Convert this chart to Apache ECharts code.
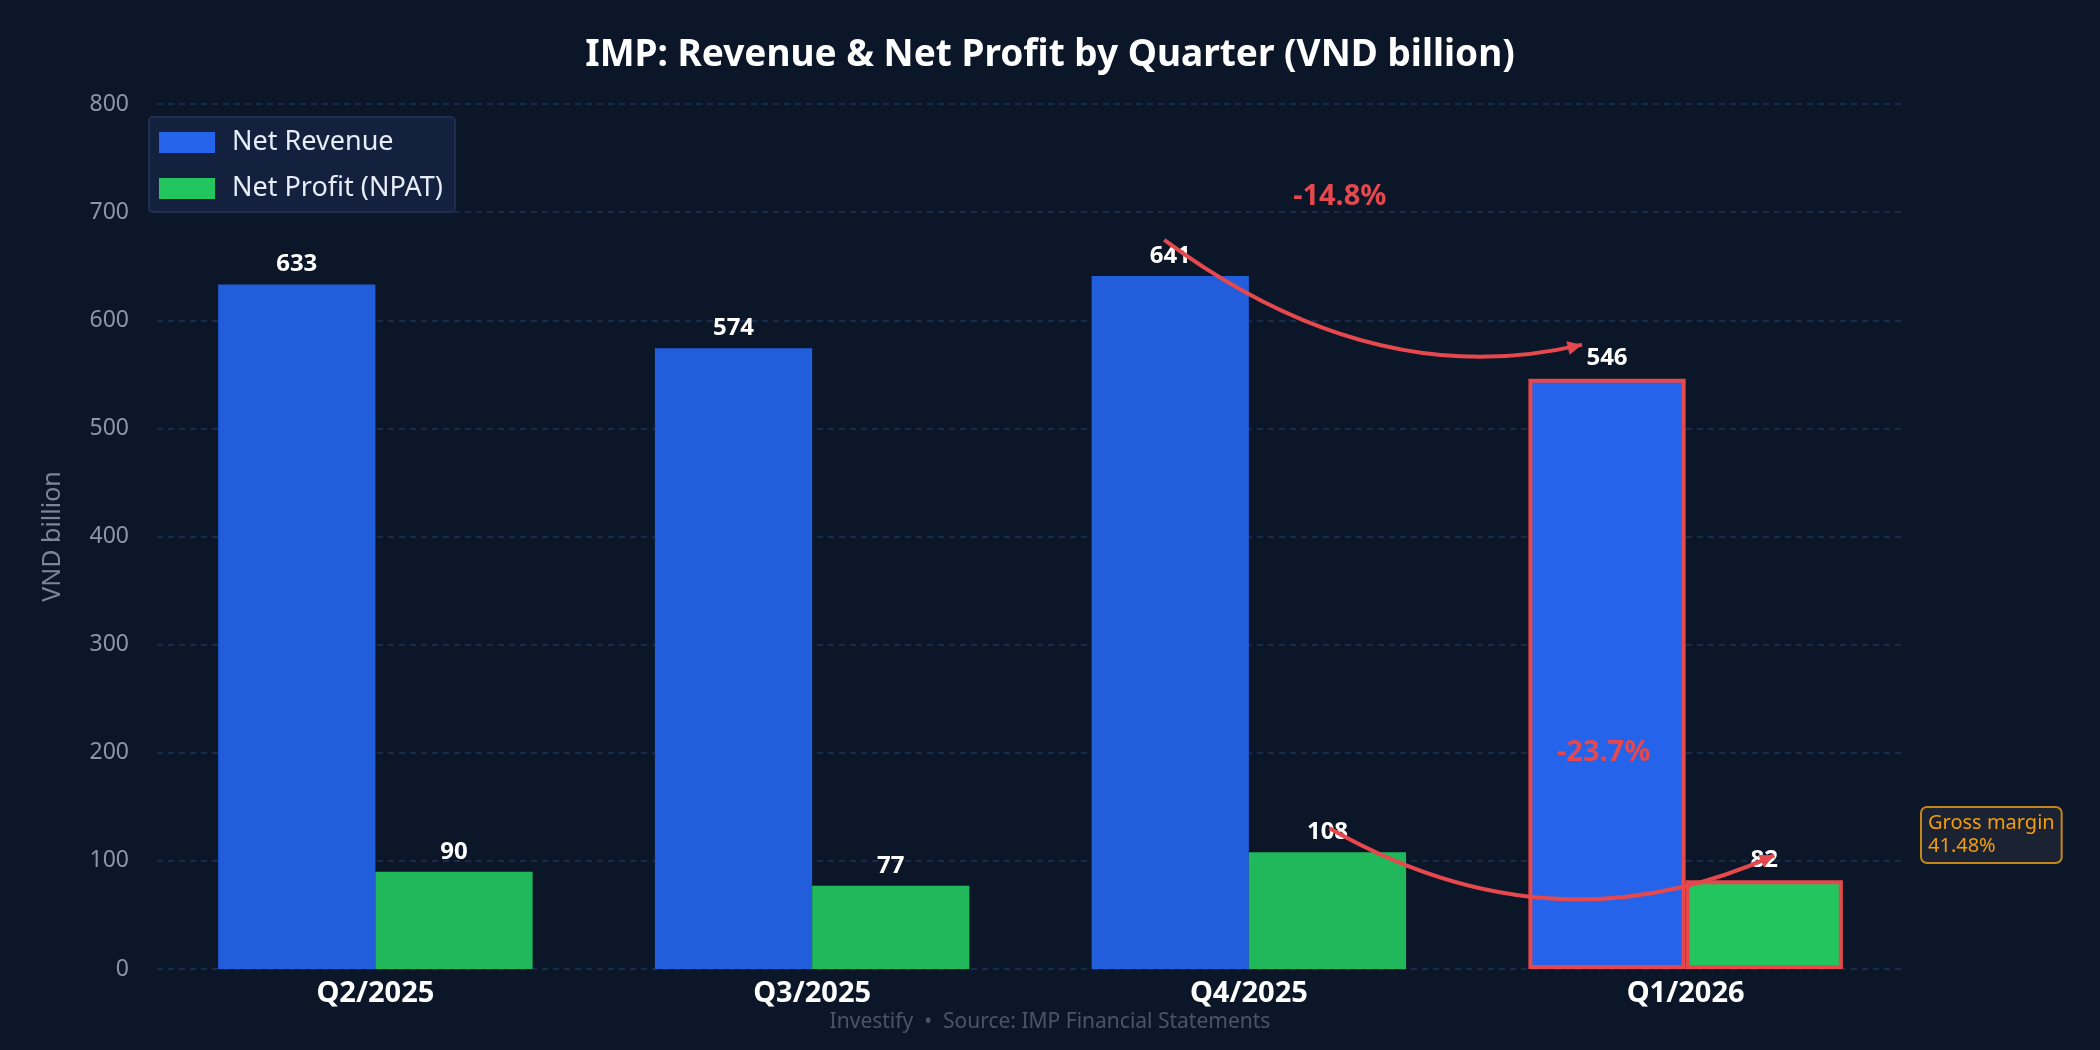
<!DOCTYPE html>
<html>
<head>
<meta charset="utf-8">
<script src="https://cdn.jsdelivr.net/npm/echarts@6/dist/echarts.min.js"></script>
<style>
  html, body { margin: 0; padding: 0; background: #0b1628; }
  #chart { width: 2100px; height: 1050px; }
</style>
</head>
<body>
<div id="chart"></div>
<script>
// data
const quarters = ['Q2/2025', 'Q3/2025', 'Q4/2025', 'Q1/2026']
const revenue = [633, 574, 641, 546]
const profit = [90, 77, 108, 82]
const yTicks = [0, 100, 200, 300, 400, 500, 600, 700, 800]
const revChange = '-14.8%'
const profitChange = '-23.7%'
const grossMargin = 'Gross margin\n41.48%'

const lastIdx = quarters.length - 1
const red = '#e5484d'

const barItems = (vals, base, hi) => vals.map((v, i) => i === lastIdx
  ? { value: v, itemStyle: { color: hi, borderColor: red, borderWidth: 4 } }
  : { value: v, itemStyle: { color: base } })

const labelStyle = { show: true, position: 'top', color: '#ffffff', fontWeight: 'bold', fontSize: 24, distance: 8 }

const myChart = echarts.init(document.getElementById('chart'))
myChart.setOption({
  backgroundColor: '#0b1628',
  textStyle: { fontFamily: 'Noto Sans' },
  title: {
    text: 'IMP: Revenue & Net Profit by Quarter (VND billion)',
    left: 'center', top: 32,
    textStyle: { color: '#ffffff', fontSize: 37, fontWeight: 'bold' }
  },
  grid: { left: 157, right: 196, top: 104, bottom: 81 },
  legend: {
    left: 149, top: 117, orient: 'vertical', icon: 'rect',
    itemWidth: 56, itemHeight: 21, itemGap: 19,
    padding: [12, 12, 10, 10],
    backgroundColor: '#13203e', borderColor: '#1f2f4f', borderWidth: 2, borderRadius: 4,
    textStyle: { color: '#e5edf7', fontSize: 27, padding: [0, 0, 0, 12] },
    data: [
      { name: 'Net Revenue', itemStyle: { color: '#2563eb' } },
      { name: 'Net Profit (NPAT)', itemStyle: { color: '#22c55e' } }
    ]
  },
  xAxis: {
    type: 'category', data: quarters,
    axisLine: { show: false }, axisTick: { show: false },
    axisLabel: { color: '#ffffff', fontWeight: 'bold', fontSize: 29, margin: 10 }
  },
  yAxis: {
    type: 'value', min: yTicks[0], max: yTicks[yTicks.length - 1], interval: 100,
    name: 'VND billion', nameLocation: 'middle', nameGap: 92,
    nameTextStyle: { color: '#7a8699', fontSize: 25 },
    axisLabel: { color: '#8b97a8', fontSize: 23, margin: 28 },
    splitLine: { lineStyle: { color: '#1f3355', type: [6, 5], width: 1.5 } }
  },
  series: [
    {
      name: 'Net Revenue', type: 'bar', barGap: '0%', barCategoryGap: '28%',
      data: barItems(revenue, '#225ddb', '#2563eb'), label: labelStyle
    },
    {
      name: 'Net Profit (NPAT)', type: 'bar',
      data: barItems(profit, '#21b85b', '#22c55e'), label: labelStyle
    }
  ]
})

// annotations placed from data positions
const px = (i, v, dx) => {
  const p = myChart.convertToPixel({ seriesIndex: 0 }, [i, v])
  return [p[0] + dx, p[1]]
}
const bw = myChart.getModel().getSeriesByIndex(0).getData().getItemLayout(0).width

const arrow = (a, b, dip) => {
  const cx = (a[0] + b[0]) / 2
  const cy = Math.max(a[1], b[1]) + dip
  const ang = Math.atan2(b[1] - cy, b[0] - cx)
  const L = 16
  return [
    { type: 'bezierCurve', shape: { x1: a[0], y1: a[1], x2: b[0], y2: b[1], cpx1: cx, cpy1: cy },
      style: { stroke: red, lineWidth: 4, fill: null }, z: 100 },
    { type: 'polygon', shape: { points: [
        [b[0], b[1]],
        [b[0] - L * Math.cos(ang - 0.45), b[1] - L * Math.sin(ang - 0.45)],
        [b[0] - L * Math.cos(ang + 0.45), b[1] - L * Math.sin(ang + 0.45)]
      ] }, style: { fill: red }, z: 100 }
  ]
}

const r0 = px(2, revenue[2], -bw / 2)
const r1 = px(lastIdx, revenue[lastIdx], -bw / 2)
const p0 = px(2, profit[2], bw / 2)
const p1 = px(lastIdx, profit[lastIdx], bw / 2)
const a1 = [r0[0] - 6, r0[1] - 36]
const b1 = [r1[0] - 25, r1[1] - 34]
const a2 = [p0[0] + 2, p0[1] - 24]
const b2 = [p1[0] + 10, p1[1] - 25]

myChart.setOption({
  graphic: [
    ...arrow(a1, b1, 50),
    ...arrow(a2, b2, 100),
    { type: 'text', x: (a1[0] + b1[0]) / 2 - 80, y: 182,
      style: { text: revChange, fill: red, font: 'bold 29px Noto Sans' }, z: 110 },
    { type: 'text', x: r1[0] - 50, y: 738,
      style: { text: profitChange, fill: red, font: 'bold 29px Noto Sans' }, z: 110 },
    { type: 'text', x: 1922, y: 808,
      style: { text: grossMargin, fill: '#f59e0b', font: '20px Noto Sans', lineHeight: 23,
        backgroundColor: '#1b2232', borderColor: '#c4861a', borderWidth: 2, borderRadius: 5,
        padding: [4, 6, 4, 6] }, z: 110 },
    { type: 'text', left: 'center', top: 1012,
      style: { text: 'Investify  •  Source: IMP Financial Statements', fill: '#4b5567', font: '21px Noto Sans' } }
  ]
})
</script>
</body>
</html>
